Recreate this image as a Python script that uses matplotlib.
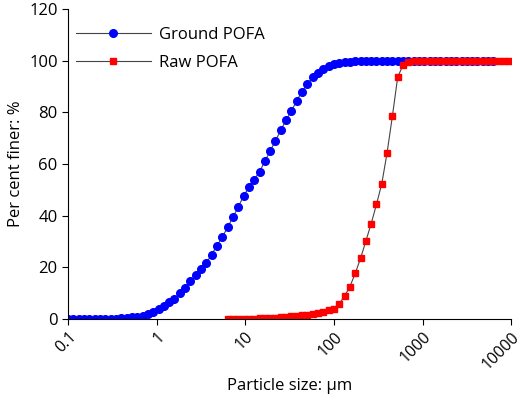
import numpy as np
import matplotlib
matplotlib.use("Agg")
import matplotlib.pyplot as plt

plt.rcParams['font.family'] = ['Open Sans', 'DejaVu Sans']

# Particle sizes (um) on a log grid
ground_logx = np.round(np.arange(-1.0, 3.81, 0.06), 2)
ground_y = [0, 0, 0, 0, 0, 0, 0, 0.1, 0.1, 0.2,
            0.3, 0.5, 0.7, 1.0, 1.4, 2.0, 2.8, 4.1, 5.2, 6.7,
            8.0, 10.0, 12.2, 14.7, 17.1, 19.5, 21.8, 25.0, 28.4, 31.8,
            35.5, 39.4, 43.4, 47.6, 51.0, 54.0, 57.0, 61.0, 65.0, 69.0,
            73.0, 77.0, 80.5, 84.5, 88.0, 91.0, 93.5, 95.3, 96.8, 97.8,
            98.5, 99.0, 99.4, 99.6, 99.8, 99.9] + [100] * 25
raw_logx = np.round(np.arange(0.8, 4.01, 0.06), 2)
raw_y = [0, 0, 0, 0, 0.1, 0.2, 0.3, 0.4, 0.5, 0.6,
         0.8, 1.0, 1.1, 1.3, 1.5, 1.8, 2.1, 2.5, 2.9, 3.4,
         4.0, 6.0, 8.9, 12.6, 17.7, 23.5, 30.2, 36.9, 44.4, 52.4,
         64.4, 78.6, 93.7, 98.2, 99.5] + [100] * 19
ground_x = 10 ** ground_logx[:len(ground_y)]
raw_x = 10 ** raw_logx[:len(raw_y)]

xticks = [0.1, 1, 10, 100, 1000, 10000]
xticklabels = ['0.1', '1', '10', '100', '1000', '10000']

fig = plt.figure(figsize=(5.2, 4.01), dpi=100)
ax = fig.add_axes([0.131, 0.204, 0.852, 0.774])
ax.plot(ground_x, ground_y, color='#444444', lw=0.8, marker='o', ms=5.5,
        mfc='#0000ff', mec='#0000ff', label='Ground POFA')
ax.plot(raw_x, raw_y, color='#444444', lw=0.8, marker='s', ms=5,
        mfc='#ff0000', mec='#ff0000', label='Raw POFA')
ax.set_xscale('log')
ax.set_xlim(0.1, 10000)
ax.set_ylim(0, 120)
ax.set_yticks(range(0, 121, 20))
ax.set_xticks(xticks)
ax.set_xticklabels(xticklabels, rotation=45, ha='right', rotation_mode='anchor')
ax.minorticks_off()
ax.tick_params(labelsize=12, length=4, color='black')
ax.tick_params(axis='x', labelsize=11.5, pad=3)
for s in ['top', 'right']:
    ax.spines[s].set_visible(False)
ax.set_xlabel('Particle size: µm', fontsize=12)
ax.set_ylabel('Per cent finer: %', fontsize=12)
ax.legend(loc='upper left', bbox_to_anchor=(-0.005, 0.975), frameon=False,
          fontsize=12, handlelength=4.5, handletextpad=0.5, borderaxespad=0.2,
          labelspacing=0.75)
fig.savefig('out.png', dpi=100)
